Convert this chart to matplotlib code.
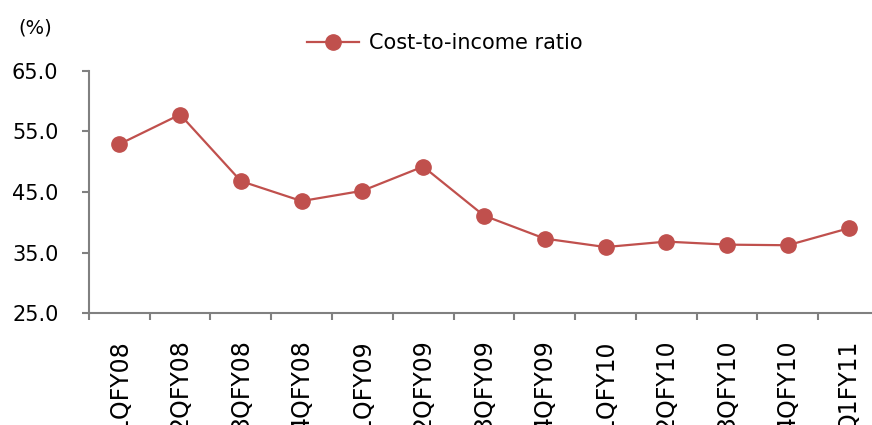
import numpy as np
import matplotlib.pyplot as plt

quarters = ['1QFY08', '2QFY08', '3QFY08', '4QFY08', '1QFY09', '2QFY09', '3QFY09',
            '4QFY09', '1QFY10', '2QFY10', '3QFY10', '4QFY10', 'Q1FY11']
cost_to_income = [52.9, 57.8, 46.8, 43.5, 45.2, 49.2, 41.1, 37.3, 35.9, 36.8, 36.3, 36.2, 39.0]

red = '#C0504D'
grey = '#808080'

plt.rcParams['font.family'] = ['DejaVu Sans']

fig = plt.figure(figsize=(8.72, 4.25), dpi=100)
ax = fig.add_axes([0.102, 0.2635, 0.906, 0.5695])

x = np.arange(len(quarters))
ax.plot(x, cost_to_income, color=red, lw=1.6, marker='o', markersize=11,
        markerfacecolor=red, markeredgecolor=red, label='Cost-to-income ratio')

ax.set_ylim(25, 65)
ax.set_yticks([25, 35, 45, 55, 65])
ax.set_yticklabels([f'{v:.1f}' for v in [25, 35, 45, 55, 65]], fontsize=15)
ax.set_xlim(-0.5, len(quarters) - 0.5)

# boundaries between quarters carry the tick marks, centres carry the labels
ax.set_xticks(np.arange(-0.5, len(quarters), 1))
ax.set_xticklabels([])
ax.set_xticks(x, minor=True)
ax.set_xticklabels(quarters, minor=True, rotation=90, fontsize=17, va='top', ha='center')
ax.tick_params(axis='x', which='major', length=5, width=1.5, color=grey, direction='out')
ax.tick_params(axis='x', which='minor', length=0, pad=19)
ax.tick_params(axis='y', length=5, width=1.5, color=grey, pad=17)

for side in ['top', 'right']:
    ax.spines[side].set_visible(False)
for side in ['left', 'bottom']:
    ax.spines[side].set_color(grey)
    ax.spines[side].set_linewidth(1.5)

fig.text(0.021, 0.935, '(%)', fontsize=14, va='center', ha='left')

ax.legend(loc='center', bbox_to_anchor=(0.51, 0.899), bbox_transform=fig.transFigure,
          frameon=False, fontsize=15, handlelength=2.5, handletextpad=0.5)

fig.savefig('out.png', dpi=100)
